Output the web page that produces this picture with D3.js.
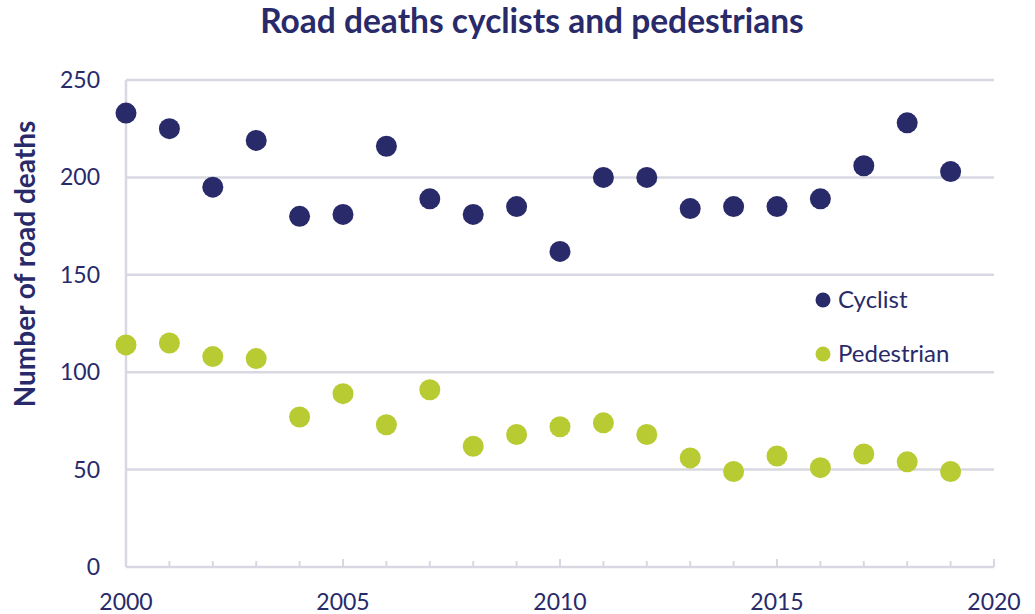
<!DOCTYPE html>
<html>
<head>
<meta charset="utf-8">
<script src="https://cdn.jsdelivr.net/npm/d3@7"></script>
<style>
  body { margin: 0; background: #fff; }
  text { font-family: Lato, "Open Sans", sans-serif; fill: #282a6a; }
</style>
</head>
<body>
<div id="chart"></div>
<script>
var width = 1035,
	height = 614;

// Data
var years = d3.range(2000, 2020);
var cyclist = [233, 225, 195, 219, 180, 181, 216, 189, 181, 185, 162, 200, 200, 184, 185, 185, 189, 206, 228, 203];
var pedestrian = [114, 115, 108, 107, 77, 89, 73, 91, 62, 68, 72, 74, 68, 56, 49, 57, 51, 58, 54, 49];
var seriesNames = ["Cyclist", "Pedestrian"];
var colors = ["#282a6a", "#b9cb33"];
var yTicks = [0, 50, 100, 150, 200, 250];
var xTicks = [2000, 2005, 2010, 2015, 2020];

var margin = {top: 80, right: 41, bottom: 47, left: 126};

var svg = d3.select("#chart")
	.append("svg")
	.attr("width", width)
	.attr("height", height);

var x = d3.scaleLinear()
	.domain([2000, 2020])
	.range([margin.left, width - margin.right]);
var y = d3.scaleLinear()
	.domain([0, 250])
	.range([height - margin.bottom, margin.top]);

var gridColor = "#d9d8e2";

// Gridlines
svg.append("g")
	.selectAll("line")
	.data(yTicks.slice(1))
	.enter()
	.append("line")
	.attr("x1", x(2000))
	.attr("x2", x(2020))
	.attr("y1", function(d) { return y(d); })
	.attr("y2", function(d) { return y(d); })
	.attr("stroke", gridColor)
	.attr("stroke-width", 2.5);

// Axes lines
svg.append("line")
	.attr("x1", x(2000)).attr("x2", x(2000))
	.attr("y1", y(0)).attr("y2", y(250))
	.attr("stroke", gridColor).attr("stroke-width", 2.5);
svg.append("line")
	.attr("x1", x(2000)).attr("x2", x(2020))
	.attr("y1", y(0)).attr("y2", y(0))
	.attr("stroke", gridColor).attr("stroke-width", 2.5);

// Year ticks (pointing up)
svg.append("g")
	.selectAll("line")
	.data(d3.range(2001, 2021))
	.enter()
	.append("line")
	.attr("x1", function(d) { return x(d); })
	.attr("x2", function(d) { return x(d); })
	.attr("y1", y(0))
	.attr("y2", function(d) { return y(0) - (d % 5 === 0 ? 8 : 6); })
	.attr("stroke", gridColor)
	.attr("stroke-width", 2);

// Y tick labels
svg.append("g")
	.selectAll("text")
	.data(yTicks)
	.enter()
	.append("text")
	.attr("x", 100)
	.attr("y", function(d) { return y(d); })
	.attr("dy", "0.35em")
	.attr("text-anchor", "end")
	.style("font-size", "23px")
	.text(function(d) { return d; });

// X tick labels
svg.append("g")
	.selectAll("text")
	.data(xTicks)
	.enter()
	.append("text")
	.attr("x", function(d) { return x(d); })
	.attr("y", 610)
	.attr("text-anchor", "middle")
	.style("font-size", "23px")
	.text(function(d) { return d; });

// Title
svg.append("text")
	.attr("x", 532)
	.attr("y", 33)
	.attr("text-anchor", "middle")
	.style("font-size", "33.5px")
	.style("font-weight", "bold")
	.text("Road deaths cyclists and pedestrians");

// Y axis title
svg.append("text")
	.attr("transform", "translate(35,264) rotate(-90)")
	.attr("text-anchor", "middle")
	.style("font-size", "28px")
	.style("font-weight", "bold")
	.text("Number of road deaths");

// Points
[cyclist, pedestrian].forEach(function(values, i) {
	svg.append("g")
		.selectAll("circle")
		.data(values)
		.enter()
		.append("circle")
		.attr("cx", function(d, j) { return x(years[j]); })
		.attr("cy", function(d) { return y(d); })
		.attr("r", 10.5)
		.attr("fill", colors[i]);
});

// Legend
var legend = svg.append("g")
	.selectAll("g")
	.data(seriesNames)
	.enter()
	.append("g")
	.attr("transform", function(d, i) { return "translate(823," + (300 + i * 54) + ")"; });
legend.append("circle")
	.attr("r", 7.5)
	.attr("fill", function(d, i) { return colors[i]; });
legend.append("text")
	.attr("x", 15)
	.attr("dy", "0.35em")
	.style("font-size", "24px")
	.text(function(d) { return d; });
</script>
</body>
</html>
